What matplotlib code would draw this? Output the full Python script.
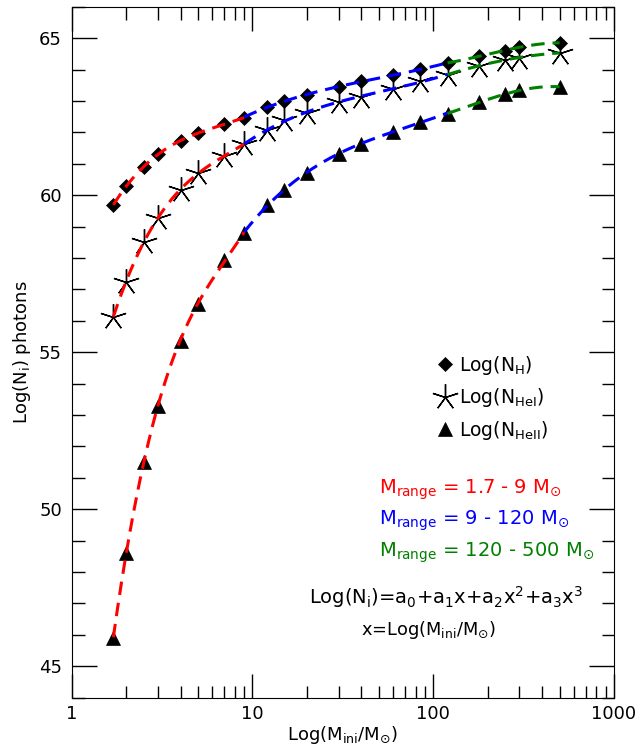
import numpy as np
import matplotlib.pyplot as plt
from matplotlib.ticker import FixedLocator, FixedFormatter, NullFormatter, MultipleLocator

plt.rcParams['font.family'] = ['DejaVu Sans']
plt.rcParams['mathtext.default'] = 'regular'

# initial masses (M_sun)
masa = np.array([1.7, 2, 2.5, 3, 4, 5, 7, 9, 12, 15, 20, 30, 40, 60, 85,
                 120, 180, 250, 300, 500])

# log of ionizing photons
log_nh = np.array([59.69, 60.28, 60.91, 61.31, 61.71, 61.99, 62.26, 62.47,
                   62.82, 63.00, 63.19, 63.44, 63.62, 63.83, 64.01, 64.21,
                   64.43, 64.60, 64.72, 64.85])
log_nhei = np.array([56.13, 57.24, 58.52, 59.26, 60.18, 60.70, 61.25, 61.63,
                     62.06, 62.38, 62.63, 62.98, 63.14, 63.38, 63.62, 63.84,
                     64.12, 64.31, 64.38, 64.53])
log_nheii = np.array([45.90, 48.60, 51.50, 53.30, 55.35, 56.55, 57.95, 58.80,
                      59.70, 60.17, 60.72, 61.31, 61.63, 62.02, 62.34, 62.60,
                      62.96, 63.21, 63.34, 63.45])

# mass ranges for the cubic fits
rangos = [(1.7, 9), (9, 120), (120, 500)]
colores = ['red', 'blue', 'green']
etiquetas_rango = ['1.7 - 9', '9 - 120', '120 - 500']

fig = plt.figure(figsize=(6.39, 7.47), dpi=100)
ax = fig.add_axes([0.1122, 0.0660, 0.8487, 0.9250])

ax.plot(masa, log_nh, 'D', color='black', ms=7, mew=0.5, ls='none',
        label=r'Log(N$_H$)', zorder=2)
ax.plot(masa, log_nhei, marker=(5, 2, 0), color='black', ms=19, mew=1.0,
        ls='none', label=r'Log(N$_{HeI}$)', zorder=2)
ax.plot(masa, log_nheii, '^', color='black', ms=10, mew=0.5, ls='none',
        label=r'Log(N$_{HeII}$)', zorder=2)

# ajuste cubico en x = log(M) para cada rango
for (m0, m1), c in zip(rangos, colores):
    sel = (masa >= m0) & (masa <= m1)
    xf = np.log10(masa[sel])
    xx = np.linspace(np.log10(m0), np.log10(m1), 200)
    for serie in (log_nh, log_nhei, log_nheii):
        coef = np.polyfit(xf, serie[sel], 3)
        ax.plot(10 ** xx, np.polyval(coef, xx), color=c, lw=2.2,
                dashes=(4.4, 2.6), zorder=3)

ax.set_xscale('log')
ax.set_xlim(1, 1000)
ax.set_ylim(44, 66)
ax.xaxis.set_major_locator(FixedLocator([1, 10, 100, 1000]))
ax.xaxis.set_major_formatter(FixedFormatter(['1', '10', '100', '1000']))
menores = [k * 10 ** d for d in range(3) for k in range(2, 10)]
ax.xaxis.set_minor_locator(FixedLocator(menores))
ax.xaxis.set_minor_formatter(NullFormatter())
ax.yaxis.set_major_locator(MultipleLocator(5))
ax.yaxis.set_minor_locator(MultipleLocator(1))

ax.tick_params(which='both', direction='in', top=True, right=True,
               width=1.0, labelsize=13)
ax.tick_params(axis='y', which='major', length=18, pad=7)
ax.tick_params(axis='y', which='minor', length=9)
ax.tick_params(axis='x', which='major', length=17.5, pad=5)
ax.tick_params(axis='x', which='minor', length=9)

ax.set_xlabel(r'Log(M$_{ini}$/M$_{\odot}$)', fontsize=13, labelpad=1)
ax.set_ylabel(r'Log(N$_i$) photons', fontsize=13, labelpad=4)

ax.legend(loc='center', bbox_to_anchor=(0.775, 0.434), frameon=False,
          numpoints=1, handlelength=1.0, handletextpad=0.25,
          labelspacing=0.5, fontsize=13.5)

ys = [0.2948, 0.2499, 0.2040]
for c, r, y in zip(colores, etiquetas_rango, ys):
    ax.text(0.567, y, r'$M_{range}$ = ' + r + r' M$_{\odot}$', color=c,
            fontsize=14, transform=ax.transAxes, va='baseline')

ax.text(0.690, 0.1356, r'Log(N$_i$)=a$_0$+a$_1$x+a$_2$x$^2$+a$_3$x$^3$',
        fontsize=14, ha='center', va='baseline', transform=ax.transAxes)
ax.text(0.658, 0.0907, r'x=Log(M$_{ini}$/M$_{\odot}$)', fontsize=12.8,
        ha='center', va='baseline', transform=ax.transAxes)

plt.savefig('out.png', dpi=100)
